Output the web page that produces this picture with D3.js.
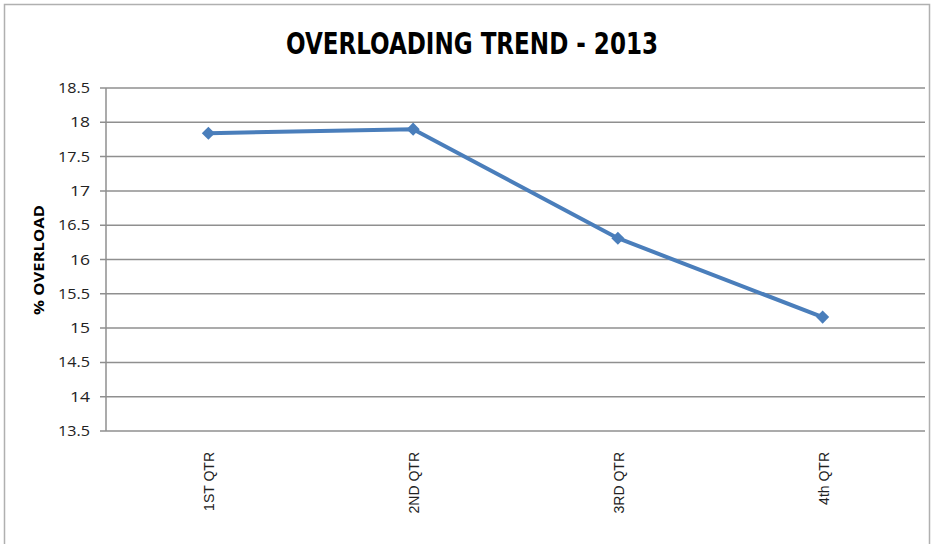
<!DOCTYPE html>
<html>
<head>
<meta charset="utf-8">
<script src="https://cdn.jsdelivr.net/npm/d3@7"></script>
<style>
  body { margin: 0; background: #fff; }
  svg { display: block; }
</style>
</head>
<body>
<svg width="933" height="544"></svg>
<script>
const quarters = ["1ST QTR", "2ND QTR", "3RD QTR", "4th QTR"];
const overload = [17.84, 17.9, 16.31, 15.16];
const yTicks = [13.5, 14, 14.5, 15, 15.5, 16, 16.5, 17, 17.5, 18, 18.5];

const svg = d3.select("svg");
const margin = { left: 106, right: 8, top: 88, bottom: 113 };
const W = 933, H = 544;

// chart frame
svg.append("path")
  .attr("d", `M4.5,544 V4.5 H929.5 V544`)
  .attr("fill", "none")
  .attr("stroke", "#b0b0b0")
  .attr("stroke-width", 1.5);

svg.append("text")
  .attr("x", 472).attr("y", 54)
  .attr("text-anchor", "middle")
  .attr("font-family", "'DejaVu Sans Condensed', 'Open Sans', sans-serif")
  .attr("font-weight", "bold")
  .attr("font-size", 31)
  .attr("textLength", 372)
  .attr("lengthAdjust", "spacingAndGlyphs")
  .text("OVERLOADING TREND - 2013");

const x = d3.scaleBand().domain(quarters).range([margin.left, W - margin.right]);
const y = d3.scaleLinear().domain([13.5, 18.5]).range([H - margin.bottom, margin.top]);

// gridlines
svg.append("g")
  .selectAll("line")
  .data(yTicks)
  .join("line")
  .attr("x1", margin.left - 6).attr("x2", W - margin.right)
  .attr("y1", d => y(d)).attr("y2", d => y(d))
  .attr("stroke", "#8f8f8f")
  .attr("stroke-width", 1.5);

// y axis line
svg.append("line")
  .attr("x1", margin.left).attr("x2", margin.left)
  .attr("y1", y(18.5)).attr("y2", y(13.5))
  .attr("stroke", "#8f8f8f")
  .attr("stroke-width", 1.5);

svg.append("g")
  .selectAll("text")
  .data(yTicks)
  .join("text")
  .attr("x", margin.left - 16)
  .attr("y", d => y(d) + 5)
  .attr("text-anchor", "end")
  .attr("font-family", "'Open Sans', sans-serif")
  .attr("font-size", 14)
  .attr("textLength", d => String(d).length > 2 ? 32 : 20)
  .attr("lengthAdjust", "spacingAndGlyphs")
  .attr("fill", "#222")
  .text(d => d);

svg.append("text")
  .attr("transform", `translate(44,260) rotate(-90)`)
  .attr("text-anchor", "middle")
  .attr("font-family", "'Open Sans', sans-serif")
  .attr("font-weight", "bold")
  .attr("font-size", 14)
  .attr("textLength", 110)
  .attr("lengthAdjust", "spacingAndGlyphs")
  .text("% OVERLOAD");

// x labels
svg.append("g")
  .selectAll("text")
  .data(quarters)
  .join("text")
  .attr("transform", d => `translate(${x(d) + x.bandwidth() / 2 + 6},452) rotate(-90)`)
  .attr("text-anchor", "end")
  .attr("font-family", "'Liberation Sans', Arial, sans-serif")
  .attr("font-size", 14)
  .attr("fill", "#222")
  .text(d => d);

const pts = quarters.map((q, i) => [x(q) + x.bandwidth() / 2, y(overload[i])]);

svg.append("path")
  .attr("d", d3.line()(pts))
  .attr("fill", "none")
  .attr("stroke", "#4a7ebb")
  .attr("stroke-width", 4)
  .attr("stroke-linejoin", "round");

svg.append("g")
  .selectAll("path")
  .data(pts)
  .join("path")
  .attr("transform", d => `translate(${d[0]},${d[1]})`)
  .attr("d", d3.symbol(d3.symbolDiamond2, 110))
  .attr("fill", "#4a7ebb");
</script>
</body>
</html>
